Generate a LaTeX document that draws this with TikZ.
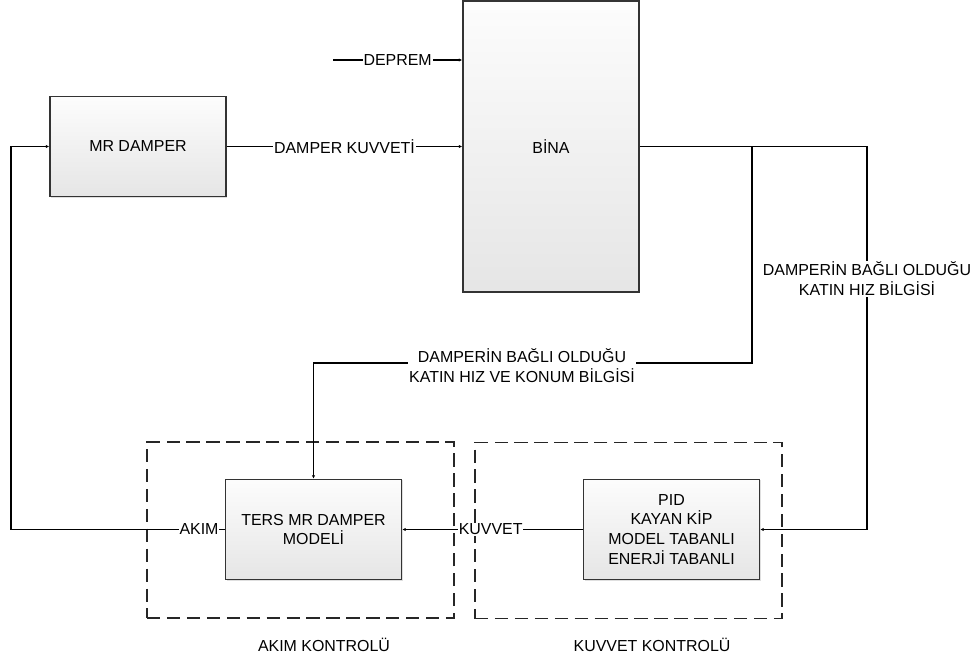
\documentclass[tikz,border=0pt]{standalone}
\usepackage{fontspec}
\setmainfont{Liberation Sans}
\usetikzlibrary{arrows.meta, positioning, shadows}

\begin{document}
\begin{tikzpicture}[x=0.02646cm, y=-0.02646cm, line width=0.8pt,
  font=\fontsize{12}{15}\selectfont,
  blok/.style={draw=black!80, line width=1.1pt, top color=black!1, bottom color=black!10,
    align=center, minimum width=4.66cm, minimum height=2.65cm,
    drop shadow={shadow xshift=0.8pt, shadow yshift=-0.8pt, opacity=0.25}},
  etiket/.style={fill=white, inner sep=0.6pt, align=center},
  ok/.style={-{Latex[length=2.5pt,width=2.5pt]}},
  grup/.style={draw=black!85, line width=0.9pt, dash pattern=on 10pt off 5pt,
    minimum width=8.12cm, minimum height=4.66cm}]
  \useasboundingbox (0,0) rectangle (975,662);

  % kontrol gruplari (kesikli)
  \node[grup] (akimgrup)   at (300.5,530) {};
  \node[grup] (kuvvetgrup) at (628.5,530.5) {};
  \node (akimbaslik)   at (324,645) {AKIM KONTROLÜ};
  \node (kuvvetbaslik) at (652,645) {KUVVET KONTROLÜ};

  % bloklar
  \node[blok] (damper) at (138,146.5) {MR DAMPER};
  \node[blok, minimum height=7.7cm] (bina) at (551,146.5) {BİNA};
  \node[blok] (ters) at (313.5,529.5) {TERS MR DAMPER\\MODELİ};
  \node[blok] (pid)  at (671.5,529.5) {PID\\KAYAN KİP\\MODEL TABANLI\\ENERJİ TABANLI};

  \coordinate (deprem) at (333,60);
  \coordinate (sag)    at (867,146.5);
  \coordinate (kol)    at (752,146.5);
  \coordinate (kolalt) at (752,363);
  \coordinate (sol)    at (11,529.5);

  % deprem ve damper kuvveti
  \draw[ok] (deprem) -- (deprem -| bina.west)
    node[etiket, midway] (depremlbl) {DEPREM};
  \draw[ok] (damper) -- (damper -| bina.west)
    node[etiket, midway] (kuvvetilbl) {DAMPER KUVVETİ};

  % geri besleme
  \draw[ok] (bina.east |- damper) -- (sag) -- (sag |- pid) -- (pid);
  \node[etiket] (hizlbl) at (867,279) {DAMPERİN BAĞLI OLDUĞU\\KATIN HIZ BİLGİSİ};
  \draw[ok] (kol) -- (kolalt) -- (kolalt -| ters) -- (ters);
  \node[etiket] (konumlbl) at (522,366) {DAMPERİN BAĞLI OLDUĞU\\KATIN HIZ VE KONUM BİLGİSİ};

  % akim ve kuvvet
  \draw[ok] (pid) -- (ters) node[etiket, pos=0.51] (kuvvetlbl) {KUVVET};
  \draw[ok] (ters) -- (sol) -- (sol |- damper) -- (damper);
  \node[etiket] (akimlbl) at (199,529.5) {AKIM};
\end{tikzpicture}
\end{document}
